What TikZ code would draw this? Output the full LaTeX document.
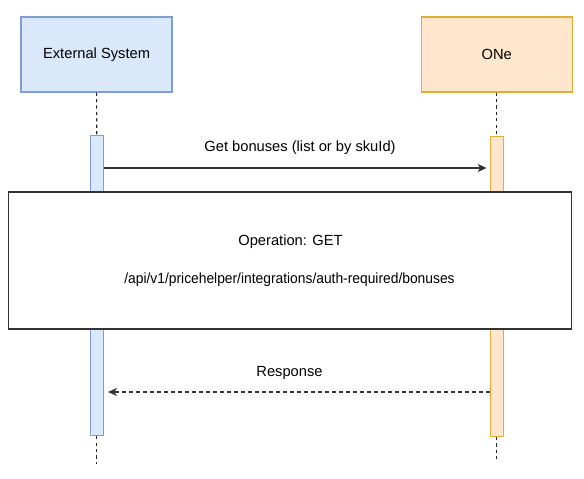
\documentclass[tikz,border=0pt]{standalone}
\usepackage{fontspec}
\setmainfont{Liberation Sans}
\usetikzlibrary{arrows.meta}
\definecolor{bluefill}{HTML}{DAE8FC}
\definecolor{bluedraw}{HTML}{7F9FD2}
\definecolor{orfill}{HTML}{FFE6CC}
\definecolor{ordraw}{HTML}{E0AE38}
\definecolor{boxdraw}{HTML}{333333}
\begin{document}
\begin{tikzpicture}[x=1pt,y=-1pt,
  every node/.style={font=\fontsize{14.7}{17}\selectfont, text=black},
  actor/.style={draw, line width=1.3pt, minimum width=151pt, minimum height=75pt, inner sep=0pt},
  blueactor/.style={actor, fill=bluefill, draw=bluedraw},
  oractor/.style={actor, fill=orfill, draw=ordraw},
  actbar/.style={draw, line width=1.3pt, minimum width=13pt, minimum height=300pt, inner sep=0pt},
  lifeline/.style={draw=black!85, line width=1.1pt, dash pattern=on 3.2pt off 3.2pt},
  msg/.style={draw=black!80, line width=1.2pt, -{Stealth[length=9pt,width=8pt,inset=2.5pt]}},
  opbox/.style={draw=boxdraw, fill=white, line width=1.5pt, minimum width=563pt, minimum height=137pt, inner sep=0pt},
  lbl/.style={inner sep=0pt}
]
\useasboundingbox (0,0) rectangle (584,479);

\node[blueactor] (ext) at (96.6,54.5) {External System};
\node[oractor] (one) at (496.8,54.5) {ONe};

\node[actbar, fill=bluefill, draw=bluedraw] (actL) at (96.8,285.6) {};
\node[actbar, fill=orfill, draw=ordraw] (actR) at (496.8,286.3) {};

\coordinate (endL) at (96.8,464);
\coordinate (endR) at (496.8,462);

\draw[lifeline] (ext.south) -- (actL.north);
\draw[lifeline] (one.south) -- (actR.north);
\draw[lifeline] (actL.south) -- (endL);
\draw[lifeline] (actR.south) -- (endR);

\draw[msg, shorten >=3pt] (actL.east |- 0,168) -- (actR.west |- 0,168);
\node[lbl] (reqlbl) at (300,148) {Get bonuses (list or by skuId)};

\node[opbox] (op) at (289.8,260.7) {};
\node[lbl] (optitle) at (290.5,241.8) {Operation: GET};
\node[lbl] (oppath) at (289.5,279.3) {\scalebox{0.94}[1]{/api/v1/pricehelper/integrations/auth-required/bonuses}};

\draw[msg, dashed, dash pattern=on 4pt off 3pt, shorten >=4pt] (actR.west |- 0,392) -- (actL.east |- 0,392);
\node[lbl] (resplbl) at (289.5,372.5) {Response};
\end{tikzpicture}
\end{document}
